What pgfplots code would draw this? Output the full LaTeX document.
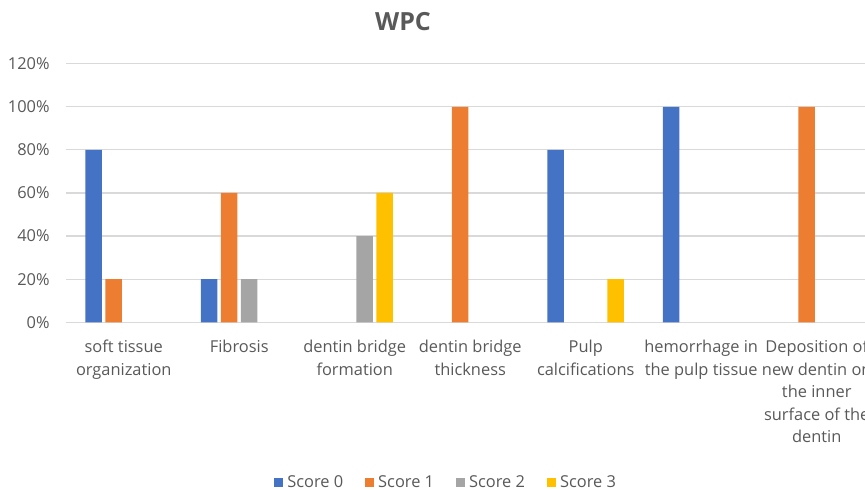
\documentclass[border=0pt]{standalone}
\usepackage{fontspec}
\setmainfont{Open Sans}
\usepackage{pgfplots}
\usepackage{pgfplotstable}
\pgfplotsset{compat=1.18}
\definecolor{sA}{HTML}{4472C4}
\definecolor{sB}{HTML}{ED7D31}
\definecolor{sC}{HTML}{A5A5A5}
\definecolor{sD}{HTML}{FFC000}
\definecolor{txt}{HTML}{595959}
\definecolor{grd}{HTML}{D9D9D9}
\pgfplotstableread{
x s0 s1 s2 s3
0 80 20 0 0
1 20 60 20 0
2 0 0 40 60
3 0 100 0 0
4 80 0 0 20
5 100 0 0 0
6 0 100 0 0
}\wpc
\begin{document}
\begin{tikzpicture}
\begin{axis}[
  scale only axis, width=399.5pt, height=129.3pt,
  xmin=-0.5, xmax=6.418, ymin=0, ymax=120,
  ybar, bar width=8.25pt,
  axis line style={draw=none},
  major tick length=0pt,
  ymajorgrids, grid style={grd, line width=0.6pt},
  ytick={0,20,...,120},
  yticklabel={\pgfmathprintnumber{\tick}\%},
  /pgf/number format/assume math mode=true,
  yticklabel style={font=\fontsize{8.2}{10}\selectfont, text=txt, xshift=-4.7pt},
  xtick={0,...,6},
  xticklabels={{soft tissue\\organization},{Fibrosis},{dentin bridge\\formation},{dentin bridge\\thickness},{Pulp\\calcifications},{hemorrhage in\\the pulp tissue},{Deposition of\\new dentin on\\the inner\\surface of the\\dentin}},
  xticklabel style={font=\fontsize{8.2}{11.25}\selectfont, text=txt, align=center, yshift=-5.5pt},
  unbounded coords=discard,
  y filter/.expression={y==0 ? nan : y},
  legend columns=4,
  legend style={at={(0.477,-0.62)}, anchor=center, draw=none, fill=none,
    font=\fontsize{8.2}{10}\selectfont, text=txt,
    /tikz/every even column/.append style={column sep=9pt}},
  legend image code/.code={\fill[#1] (0pt,-2.25pt) rectangle (4.5pt,2.25pt);},
]
\addplot[fill=sA, draw=none, bar shift=-15pt] table[x=x,y=s0]{\wpc};
\addplot[fill=sB, draw=none, bar shift=-5pt] table[x=x,y=s1]{\wpc};
\addplot[fill=sC, draw=none, bar shift=5pt] table[x=x,y=s2]{\wpc};
\addplot[fill=sD, draw=none, bar shift=15pt] table[x=x,y=s3]{\wpc};
\legend{Score 0, Score 1, Score 2, Score 3}
\end{axis}
\node[font=\bfseries\fontsize{12.5}{14}\selectfont, text=txt] at ([xshift=168.5pt, yshift=20.9pt]current axis.north west) {WPC};
\pgfresetboundingbox
\useasboundingbox ([xshift=-33pt,yshift=-83.85pt]current axis.south west) rectangle ([yshift=31.85pt]current axis.north east);
\end{tikzpicture}
\end{document}
